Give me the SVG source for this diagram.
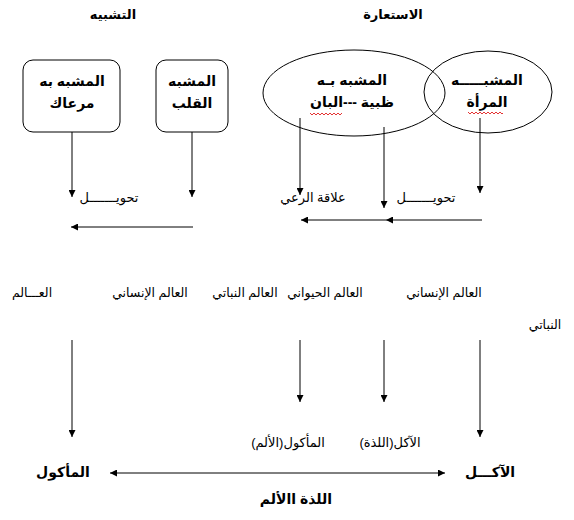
<svg xmlns="http://www.w3.org/2000/svg" width="574" height="520" viewBox="0 0 574 520">
<defs>
<marker id="ah" viewBox="0 0 10 10" refX="10" refY="5" markerWidth="7" markerHeight="7" orient="auto-start-reverse" markerUnits="userSpaceOnUse">
<path d="M0,0 L10,5 L0,10 z" fill="#000"/>
</marker>
<style>
text{font-family:"Liberation Sans","DejaVu Sans",Arial,sans-serif;fill:#000;direction:rtl;text-anchor:middle;font-size:13px}
.r{font-size:12.5px}
.b{font-weight:bold;font-size:14px}
.t{font-weight:bold;font-size:13px}
.shape{fill:none;stroke:#000;stroke-width:1}
.c line{stroke:#000;stroke-width:1;marker-end:url(#ah)}
.w{fill:none;stroke:#d00;stroke-width:0.8}
</style>
</defs>
<rect width="574" height="520" fill="#fff"/>

<g id="title-tashbih"><text class="t" x="113" y="19">التشبيه</text></g>
<g id="title-istiara"><text class="t" x="393" y="19">الاستعارة</text></g>

<g id="box-mushabbah-bih">
<rect class="shape" x="23" y="60" width="97" height="72" rx="10"/>
<text class="b" x="72" y="86">المشبه به</text>
<text class="b" x="72" y="108">مرعاك</text>
</g>
<g id="box-mushabbah">
<rect class="shape" x="156" y="60" width="72" height="72" rx="10"/>
<text class="b" x="192" y="86">المشبه</text>
<text class="b" x="192" y="108">القلب</text>
</g>
<g id="ellipse-mushabbah">
<ellipse class="shape" cx="488" cy="92" rx="64" ry="41"/>
<text class="b" x="487" y="85">المشبـــــه</text>
<text class="b" x="487" y="107">المرأة</text>
<path class="w" d="M468,112 l2,2 l2,-2 l2,2 l2,-2 l2,2 l2,-2 l2,2 l2,-2 l2,2 l2,-2 l2,2 l2,-2 l2,2 l2,-2 l2,2 l2,-2 l2,2 l1,-1"/>
</g>
<g id="ellipse-mushabbah-bih">
<ellipse class="shape" cx="354" cy="93" rx="91" ry="43"/>
<text class="b" x="352" y="85">المشبه بـه</text>
<text class="b" x="352" y="107">ظبية ---البان</text>
<path class="w" d="M310,113 l2,2 l2,-2 l2,2 l2,-2 l2,2 l2,-2 l2,2 l2,-2 l2,2 l2,-2 l2,2 l2,-2 l2,2 l2,-2 l2,2 l2,-2"/>
</g>

<g id="label-tahwil-1"><text x="109" y="202">تحويـــــــل</text></g>
<g id="label-alaqa"><text x="313" y="202">علاقة الرعي</text></g>
<g id="label-tahwil-2"><text x="426" y="202">تحويـــــــل</text></g>

<g id="world-insani-1"><text class="r" x="444" y="297">العالم الإنساني</text></g>
<g id="world-haywani"><text class="r" x="325" y="297">العالم الحيواني</text></g>
<g id="world-nabati-1"><text class="r" x="245" y="297">العالم النباتي</text></g>
<g id="world-insani-2"><text class="r" x="150" y="297">العالم الإنساني</text></g>
<g id="world-nabati-2"><text class="r" x="32" y="297">العـــالم</text><text class="r" x="545" y="329">النباتي</text></g>

<g id="label-makool-alam"><text x="288" y="447">المأكول(الألم)</text></g>
<g id="label-akl-ladha"><text x="390" y="447">الآكل(اللذة)</text></g>
<g id="node-makool"><text class="b" x="63" y="477">المأكول</text></g>
<g id="node-akil"><text class="b" x="490" y="477">الآكـــل</text></g>
<g id="label-ladha-alam"><text class="b" x="296" y="504">اللذة االألم</text></g>

<g id="connectors" class="c">
<line x1="72" y1="132" x2="72" y2="197"/>
<line x1="192" y1="132" x2="192" y2="197"/>
<line x1="300" y1="118" x2="300" y2="195"/>
<line x1="384" y1="127" x2="384" y2="208"/>
<line x1="480" y1="118" x2="480" y2="193"/>
<line x1="193" y1="227" x2="71" y2="227"/>
<line x1="482" y1="220" x2="386" y2="220"/>
<line x1="386" y1="220" x2="301" y2="220"/>
<line x1="72" y1="340" x2="72" y2="437"/>
<line x1="300" y1="340" x2="300" y2="402"/>
<line x1="384" y1="340" x2="384" y2="402"/>
<line x1="480" y1="340" x2="480" y2="437"/>
<line x1="110" y1="473" x2="445" y2="473" style="marker-start:url(#ah)"/>
</g>
</svg>
